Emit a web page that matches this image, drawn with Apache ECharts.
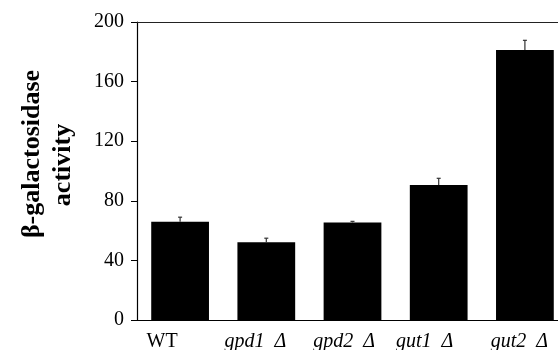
<!DOCTYPE html>
<html>
<head>
<meta charset="utf-8">
<script src="https://cdn.jsdelivr.net/npm/echarts@6/dist/echarts.min.js"></script>
<style>
  html, body { margin: 0; padding: 0; background: #fff; }
  #chart { width: 558px; height: 350px; }
</style>
</head>
<body>
<div id="chart"></div>
<script>
// strains
var strains = ['WT', 'gpd1  Δ', 'gpd2  Δ', 'gut1  Δ', 'gut2  Δ'];
// mean beta-gal activity and error (SD)
var activity = [66.0, 52.2, 65.5, 90.6, 181.2];
var activityErr = [3.0, 2.7, 0.7, 4.5, 6.5];
var yTicks = [0, 40, 80, 120, 160, 200];

// labels sit a bit left of bar centres in the original
var labelShift = [36, 22, 17, 28, 11];

var serif = '"Liberation Serif", "Times New Roman", serif';

var chart = echarts.init(document.getElementById('chart'));

var catData = strains.map(function (s, i) {
  return {
    value: s,
    textStyle: {
      fontStyle: i === 0 ? 'normal' : 'italic',
      padding: [0, labelShift[i], 0, 0]
    }
  };
});

var errData = activity.map(function (v, i) {
  return [i, v, v + activityErr[i]];
});

var option = {
  animation: false,
  backgroundColor: '#fff',
  // plot runs past the right edge (figure was cropped)
  grid: { left: 137, top: 22, width: 431, height: 298, outerBoundsMode: 'none' },
  xAxis: [{
    type: 'category',
    data: catData,
    axisLine: { lineStyle: { color: '#000', width: 1.2 } },
    axisTick: { show: false },
    axisLabel: { color: '#000', fontFamily: serif, fontSize: 20, margin: 12 }
  }, {
    type: 'category',
    position: 'top',
    data: strains,
    axisLine: { show: true, lineStyle: { color: '#222', width: 1.2 } },
    axisTick: { show: false },
    axisLabel: { show: false }
  }],
  yAxis: {
    type: 'value',
    min: yTicks[0],
    max: yTicks[yTicks.length - 1],
    interval: 40,
    axisLine: { show: true, lineStyle: { color: '#000', width: 1.2 } },
    axisTick: { show: true, inside: false, length: 6, lineStyle: { color: '#000' } },
    axisLabel: { color: '#000', fontFamily: serif, fontSize: 20, margin: 13 },
    splitLine: { show: false }
  },
  graphic: [{
    type: 'text',
    x: 32, y: 154,
    rotation: Math.PI / 2,
    style: {
      text: 'β-galactosidase',
      font: 'bold 26px ' + serif,
      fill: '#000',
      align: 'center',
      verticalAlign: 'middle'
    }
  }, {
    type: 'text',
    x: 63, y: 165,
    rotation: Math.PI / 2,
    style: {
      text: 'activity',
      font: 'bold 26px ' + serif,
      fill: '#000',
      align: 'center',
      verticalAlign: 'middle'
    }
  }],
  series: [{
    type: 'bar',
    data: activity,
    barCategoryGap: '33%',
    itemStyle: { color: '#000' },
    z: 2
  }, {
    type: 'custom',
    data: errData,
    z: 3,
    renderItem: function (params, api) {
      var x = api.coord([api.value(0), api.value(1)])[0];
      var yLow = api.coord([api.value(0), api.value(1)])[1];
      var yHigh = api.coord([api.value(0), api.value(2)])[1];
      var st = { stroke: '#333', lineWidth: 1.2 };
      return {
        type: 'group',
        children: [
          { type: 'line', shape: { x1: x, y1: yLow, x2: x, y2: yHigh }, style: st },
          { type: 'line', shape: { x1: x - 2, y1: yHigh, x2: x + 2, y2: yHigh }, style: st }
        ]
      };
    }
  }]
};

chart.setOption(option);
</script>
</body>
</html>
